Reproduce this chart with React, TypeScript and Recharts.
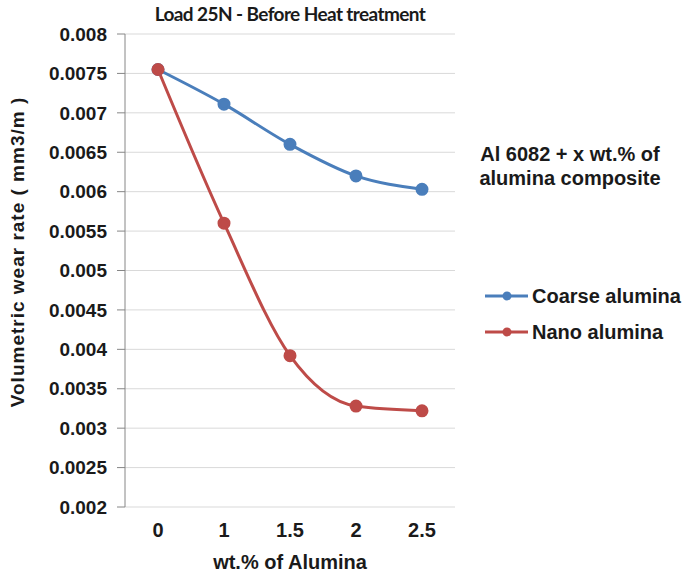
import { LineChart, Line, XAxis, YAxis, CartesianGrid } from "recharts";

const categories = ["0", "1", "1.5", "2", "2.5"];
const coarse = [0.00755, 0.00711, 0.0066, 0.0062, 0.00603];
const nano = [0.00755, 0.0056, 0.00392, 0.00328, 0.00322];
const yTicks = [0.002, 0.0025, 0.003, 0.0035, 0.004, 0.0045, 0.005, 0.0055, 0.006, 0.0065, 0.007, 0.0075, 0.008];
const seriesNames = ["Coarse alumina", "Nano alumina"];

const BLUE = "#4a7ebb";
const RED = "#be4b48";

const data = categories.map((c, i) => ({ x: c, coarse: coarse[i], nano: nano[i] }));

const font = "'Liberation Sans', Arial, sans-serif";
const tickStyle = { fontFamily: font, fontSize: 19, fontWeight: 700, fill: "#1a1a1a" };

function ChartLegend() {
  const colors = [BLUE, RED];
  return (
    <div
      style={{
        position: "absolute",
        left: 483,
        top: 278,
        fontFamily: font,
        fontWeight: 700,
        fontSize: 20,
        color: "#1a1a1a",
      }}
    >
      {seriesNames.map((name, i) => (
        <div key={name} style={{ display: "flex", alignItems: "center", height: 36 }}>
          <svg width={47} height={12} style={{ marginRight: 2 }}>
            <line x1={2} y1={6} x2={45} y2={6} stroke={colors[i]} strokeWidth={3} />
            <circle cx={24} cy={6} r={4.5} fill={colors[i]} />
          </svg>
          <span>{name}</span>
        </div>
      ))}
    </div>
  );
}

export default function App() {
  return (
    <div style={{ position: "absolute", left: 0, top: 0, width: 689, height: 574, background: "#fff" }}>
      <LineChart width={689} height={574} data={data} margin={{ top: 34, right: 234, left: 65, bottom: 27 }}>
        <CartesianGrid vertical={false} stroke="#d9d9d9" />
        <XAxis
          dataKey="x"
          axisLine={false}
          tickLine={false}
          tick={{ ...tickStyle, fontSize: 20 }}
          tickMargin={10}
          height={40}
          padding={{ left: 33, right: 33 }}
        />
        <YAxis
          domain={[0.002, 0.008]}
          ticks={yTicks}
          interval={0}
          width={60}
          tick={tickStyle}
          tickFormatter={(v: number) => String(Number(v.toFixed(4)))}
          axisLine={{ stroke: "#868686" }}
          tickLine={{ stroke: "#868686" }}
          tickSize={8}
          tickMargin={10}
        />
        <Line
          type="monotone"
          dataKey="coarse"
          name={seriesNames[0]}
          stroke={BLUE}
          strokeWidth={3}
          dot={{ r: 5, fill: BLUE, stroke: BLUE }}
          isAnimationActive={false}
        />
        <Line
          type="monotone"
          dataKey="nano"
          name={seriesNames[1]}
          stroke={RED}
          strokeWidth={3}
          dot={{ r: 5, fill: RED, stroke: RED }}
          isAnimationActive={false}
        />
      </LineChart>
      <div
        style={{
          position: "absolute",
          left: 125,
          width: 330,
          top: 2,
          textAlign: "center",
          fontFamily: "Lato, 'Open Sans', sans-serif",
          fontWeight: 700,
          fontSize: 19,
          letterSpacing: -0.6,
          color: "#1a1a1a",
        }}
      >
        Load 25N - Before Heat treatment
      </div>
      <div
        style={{
          position: "absolute",
          left: 465,
          width: 210,
          top: 142,
          textAlign: "center",
          fontFamily: font,
          fontWeight: 700,
          fontSize: 20,
          lineHeight: "24px",
          color: "#1a1a1a",
        }}
      >
        Al 6082 + x wt.% of
        <br />
        alumina composite
      </div>
      <div
        style={{
          position: "absolute",
          left: 7,
          top: 252,
          transform: "rotate(-90deg)",
          transformOrigin: "0 0",
          whiteSpace: "nowrap",
          fontFamily: font,
          fontWeight: 700,
          fontSize: 19,
          letterSpacing: 1,
          color: "#1a1a1a",
        }}
      >
        <div style={{ transform: "translate(-50%, 0)" }}>Volumetric wear rate ( mm3/m )</div>
      </div>
      <div
        style={{
          position: "absolute",
          left: 125,
          width: 330,
          top: 551,
          textAlign: "center",
          fontFamily: font,
          fontWeight: 700,
          fontSize: 20,
          color: "#1a1a1a",
        }}
      >
        wt.% of Alumina
      </div>
      <ChartLegend />
    </div>
  );
}
